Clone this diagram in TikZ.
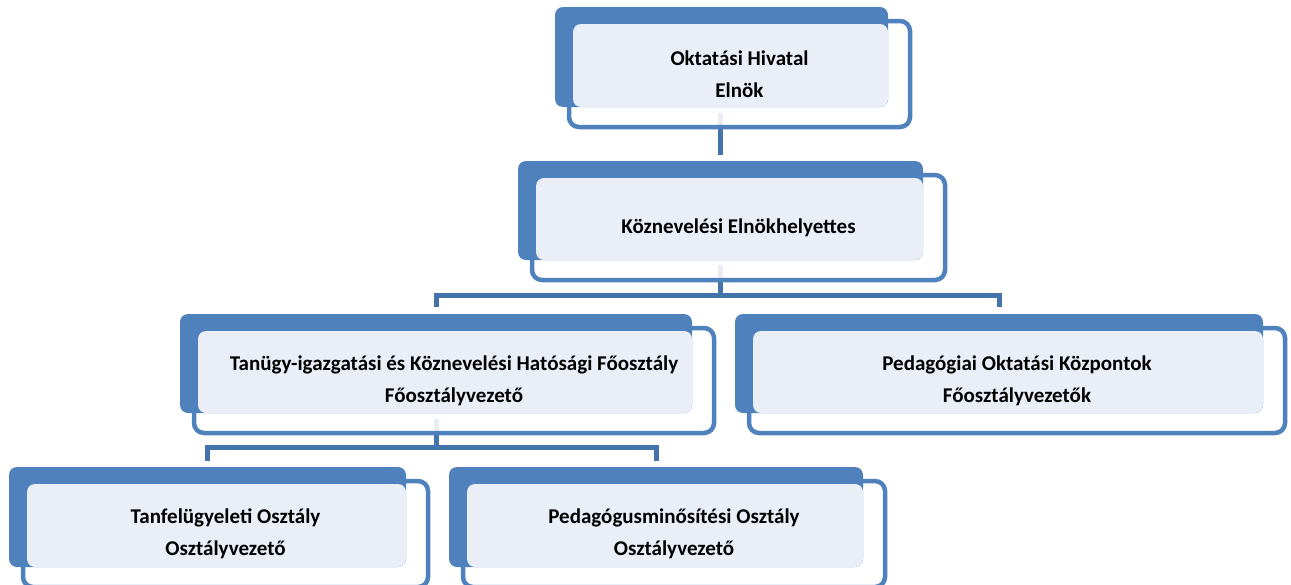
\documentclass[tikz,border=0pt]{standalone}
\usepackage{fontspec}
\setmainfont{Carlito}
\usetikzlibrary{calc}
\definecolor{accent}{HTML}{4F81BD}
\definecolor{lightfill}{HTML}{EAEFF7}
\definecolor{connc}{HTML}{4472AA}
\pgfdeclarelayer{bg}
\pgfsetlayers{bg,main}
\tikzset{
  frame/.style={draw=accent, line width=4.5pt, rounded corners=10pt, fill=white, fill opacity=0.88, inner sep=0pt, outer sep=0pt, anchor=north west},
  back/.style={fill=accent, rounded corners=8pt, inner sep=0pt, outer sep=0pt, anchor=north west},
  face/.style={fill=lightfill, rounded corners=8pt, inner sep=0pt, outer sep=0pt, anchor=north west},
  lbl/.style={font=\bfseries\fontsize{21}{32}\selectfont, align=center, text=black, inner sep=0pt},
  conn/.style={draw=connc, line width=5pt}
}
% #1 name, #2 x0, #3 y0, #4 x1, #5 y1, #6 text
\newcommand{\orgbox}[6]{%
  \node[frame, minimum width={(#4-#2+8)*1pt}, minimum height={(#5-#3+6)*1pt}] (#1frame) at (#2+14,#3+14) {};
  \node[back, minimum width={(#4-#2)*1pt}, minimum height={(#5-#3)*1pt}] (#1back) at (#2,#3) {};
  \node[face, minimum width={(#4-#2-18)*1pt}, minimum height={(#5-#3-17)*1pt}] (#1face) at (#2+18,#3+17) {};
  \node[lbl] (#1) at (#1frame.center) {#6};
}
\begin{document}
\begin{tikzpicture}[x=1pt,y=-1pt]
\useasboundingbox (0,0) rectangle (1291,584);
\clip (0,0) rectangle (1291,584);

\orgbox{b1}{555}{7}{888}{107}{Oktatási Hivatal\\Elnök}
\orgbox{b2}{518}{161}{923}{260}{Köznevelési Elnökhelyettes}
\orgbox{b3}{180}{314}{692}{413}{Tanügy-igazgatási és Köznevelési Hatósági Főosztály\\Főosztályvezető}
\orgbox{b6}{735}{314}{1263}{413}{Pedagógiai Oktatási Központok\\Főosztályvezetők}
\orgbox{b4}{9}{467}{406}{567}{Tanfelügyeleti Osztály\\Osztályvezető}
\orgbox{b5}{449}{467}{863}{567}{Pedagógusminősítési Osztály\\Osztályvezető}

\coordinate (hub2) at ($(b2back.south)+(0,35)$);
\coordinate (hub3) at ($(b3back.south)+(0,34)$);

\begin{pgfonlayer}{bg}
  \draw[conn] ($(b1face.south -| b2back.north)+(0,6)$) -- ($(b2back.north)+(0,-6)$);
  \draw[conn] ($(b2face.south -| hub2)+(0,5)$) -- (hub2);
  \draw[conn] ($(b3back.north)+(0,-7)$) |- (hub2) -| ($(b6back.north)+(0,-7)$);
  \draw[conn] ($(b3face.south -| hub3)+(0,6)$) -- (hub3);
  \draw[conn] ($(b4back.north)+(0,-6)$) |- (hub3) -| ($(b5back.north)+(0,-6)$);
\end{pgfonlayer}
\end{tikzpicture}
\end{document}
